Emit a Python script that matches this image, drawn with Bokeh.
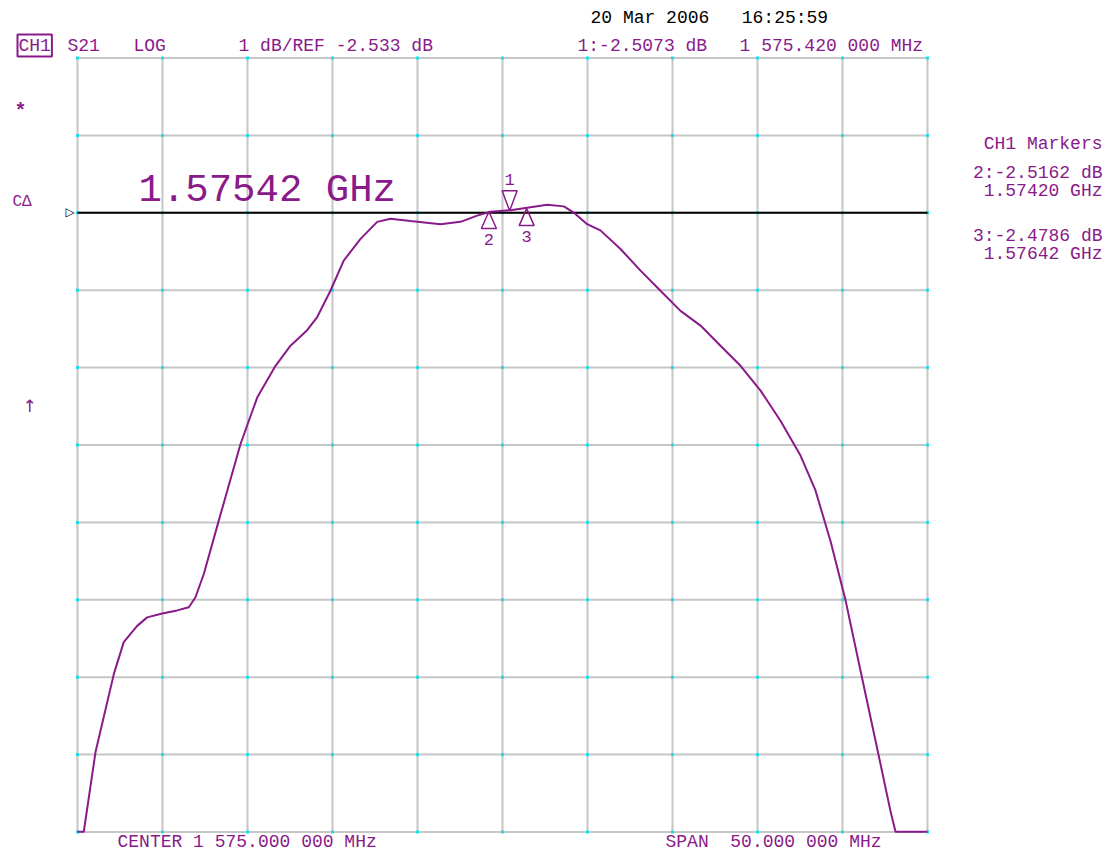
from bokeh.plotting import figure
from bokeh.models import Range1d, Label
from bokeh.embed import file_html
from bokeh.resources import INLINE

# ---- instrument settings ----
F_CENTER = 1575.0      # MHz
F_SPAN = 50.0          # MHz
REF_DB = -2.533        # dB
SCALE_DB = 1.0         # dB / div
REF_POS = 8            # reference position (divisions from bottom)
N_DIV = 10

# ---- S21 trace ----
freq_mhz = [1550.00, 1550.37, 1551.06, 1552.14, 1552.72, 1553.51, 1554.10, 1554.98,
            1555.86, 1556.55, 1556.94, 1557.43, 1558.31, 1559.59, 1560.57, 1561.65,
            1562.53, 1563.51, 1564.10, 1564.88, 1565.66, 1566.65, 1567.63, 1568.41,
            1569.59, 1571.35, 1572.53, 1573.51, 1574.29, 1575.47, 1576.65, 1577.63,
            1578.61, 1579.19, 1579.98, 1580.76, 1581.94, 1583.12, 1584.29, 1585.47,
            1586.65, 1587.82, 1589.00, 1590.18, 1591.35, 1592.53, 1593.41, 1594.29,
            1595.18, 1596.06, 1596.94, 1597.82, 1598.12, 1600.00]
s21_db = [-10.53, -10.53, -9.50, -8.49, -8.08, -7.87, -7.76, -7.71,
          -7.67, -7.63, -7.50, -7.20, -6.51, -5.52, -4.92, -4.51,
          -4.25, -4.05, -3.88, -3.54, -3.15, -2.87, -2.65, -2.61,
          -2.64, -2.68, -2.65, -2.57, -2.52, -2.50, -2.46, -2.43,
          -2.45, -2.53, -2.68, -2.76, -3.00, -3.28, -3.54, -3.80,
          -3.99, -4.25, -4.51, -4.83, -5.22, -5.67, -6.12, -6.77,
          -7.54, -8.45, -9.35, -10.26, -10.53, -10.53]

# ---- markers ----
marker_ids = ["1", "2", "3"]
marker_freq_mhz = [1575.42, 1574.20, 1576.42]
marker_db = [-2.5073, -2.5162, -2.4786]

PURPLE = "#8a1a8a"
GRID = "#c6c6c6"
MONO = "Liberation Mono"
SP = "\u00a0"   # non-breaking space (SVG collapses runs of normal spaces)

x0 = F_CENTER - F_SPAN / 2
x1 = F_CENTER + F_SPAN / 2
y0 = REF_DB - REF_POS * SCALE_DB
y1 = y0 + N_DIV * SCALE_DB

# canvas and graticule placement (pixels)
W, H = 1106, 853
GL, GT, GW, GH = 77, 57.5, 850, 774

mhz_per_px = F_SPAN / GW
db_per_px = (y1 - y0) / GH


def px2x(xi):
    return x0 + (xi - GL) * mhz_per_px


def px2y(yi):
    return y1 - (yi - GT) * db_per_px


p = figure(width=W, height=H,
           x_range=Range1d(px2x(0), px2x(W)), y_range=Range1d(px2y(H), px2y(0)),
           output_backend="svg", toolbar_location=None, min_border=0)
p.xaxis.visible = False
p.yaxis.visible = False
p.xgrid.visible = False
p.ygrid.visible = False
p.outline_line_color = None
p.background_fill_color = "white"
p.border_fill_color = "white"

# graticule
xt = [x0 + i * F_SPAN / N_DIV for i in range(N_DIV + 1)]
yt = [y0 + i * SCALE_DB for i in range(N_DIV + 1)]
p.segment(x0=xt, y0=[y0] * len(xt), x1=xt, y1=[y1] * len(xt), line_color=GRID, line_width=2)
p.segment(x0=[x0] * len(yt), y0=yt, x1=[x1] * len(yt), y1=yt, line_color=GRID, line_width=2)

# cyan dots at grid intersections
gx = [a for a in xt for b in yt]
gy = [b for a in xt for b in yt]
p.scatter(gx, gy, marker="square", size=3, color="#19e0e8", line_color=None)

# reference line
p.segment(x0=[x0], y0=[REF_DB], x1=[x1], y1=[REF_DB], line_color="black", line_width=2)

# trace
p.line(freq_mhz, s21_db, line_color=PURPLE, line_width=2)

# marker triangles
xs, ys = [], []
for mid, f, m in zip(marker_ids, marker_freq_mhz, marker_db):
    hw = 7.5 * mhz_per_px
    if mid == "1":
        h = 20 * db_per_px
        xs.append([f - hw, f + hw, f])
        ys.append([m + h, m + h, m])
        ly = m + 31 * db_per_px
    else:
        h = 17 * db_per_px
        xs.append([f, f - hw, f + hw])
        ys.append([m, m - h, m - h])
        ly = m - 28 * db_per_px
    p.add_layout(Label(x=f, y=ly, text=mid, text_align="center",
                       text_baseline="middle", text_font=MONO, text_font_size="17px",
                       text_color=PURPLE))
p.patches(xs, ys, fill_alpha=0, line_color=PURPLE, line_width=1.5)


def lab(text, xi, yi, align="left", color=PURPLE, size="18px", font=MONO, style="normal", **kw):
    p.add_layout(Label(x=px2x(xi), y=px2y(yi), text=text.replace(" ", SP), text_align=align,
                       text_baseline="middle", text_font=font, text_font_size=size,
                       text_color=color, text_font_style=style, **kw))


# header
lab("CH1", 17, 45, border_line_color=PURPLE, border_line_width=2, padding=1)
lab("S21", 67, 45)
lab("LOG", 133, 45)
lab("%g dB/REF %.3f dB" % (SCALE_DB, REF_DB), 238, 45)
m1 = "%.6f" % marker_freq_mhz[0]
m1_txt = "%s %s.%s %s MHz" % (m1[0], m1[1:4], m1[5:8], m1[8:11])
lab("1:%.4f dB   %s" % (marker_db[0], m1_txt), 577, 45)
lab("20 Mar 2006   16:25:59", 590, 17, color="black")

# left annotations
lab("*", 14, 111, style="bold", size="20px")
lab("C\u2206", 12, 201, size="16px")
lab("\u2191", 22, 405, size="17px", font="DejaVu Sans")
lab("\u25b7", 65, 211, color="black", size="12px", font="DejaVu Sans")

# active marker big readout
lab("%.5f GHz" % (marker_freq_mhz[0] / 1000), 138, 190, size="39px")

# marker table
lab("CH1 Markers", 1102, 143, align="right")
lab("2:%.4f dB" % marker_db[1], 1102, 172, align="right")
lab("%.5f GHz" % (marker_freq_mhz[1] / 1000), 1102, 190, align="right")
lab("3:%.4f dB" % marker_db[2], 1102, 235, align="right")
lab("%.5f GHz" % (marker_freq_mhz[2] / 1000), 1102, 253, align="right")

# footer
lab("CENTER 1 575.000 000 MHz", 117, 841)
lab("SPAN  50.000 000 MHz", 665, 841)

open("out.html", "w").write(file_html(p, INLINE))
